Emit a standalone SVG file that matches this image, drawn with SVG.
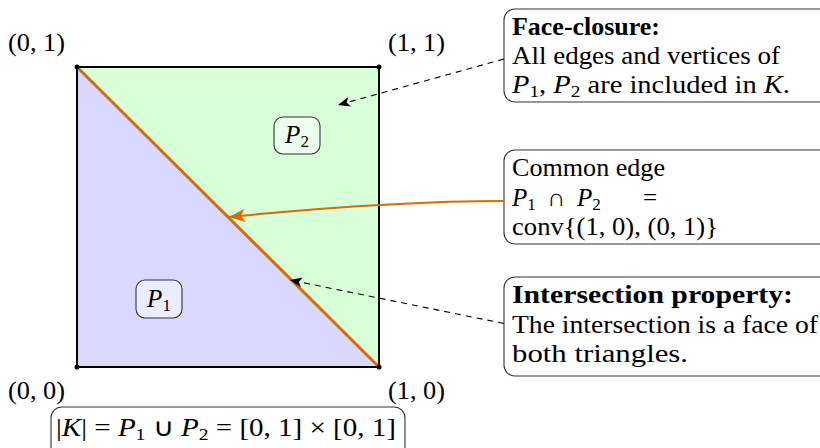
<svg xmlns="http://www.w3.org/2000/svg" width="820" height="448" viewBox="0 0 820 448">
<defs>
<style>
.t{font-family:"Liberation Serif","Times New Roman",serif;font-size:25px;fill:#000}
.b{font-weight:bold}
.i{font-style:italic}
.s{font-size:17px}
.box{fill:#fff;stroke:#333;stroke-width:1.1}
.lbl{stroke:#333;stroke-width:1.1}
.dash{fill:none;stroke:#000;stroke-width:1.1;stroke-dasharray:6,5}
</style>
<marker id="ah" viewBox="0 0 12 10" refX="12" refY="5" markerWidth="12" markerHeight="10" markerUnits="userSpaceOnUse" orient="auto">
<path d="M0,0 L12,5 L0,10 L3,5 z" fill="#000"/>
</marker>
<marker id="ahO" viewBox="0 0 16 13" refX="16" refY="6.5" markerWidth="16" markerHeight="13" markerUnits="userSpaceOnUse" orient="auto">
<path d="M0,0 L16,6.5 L0,13 L4,6.5 z" fill="#d56d00"/>
</marker>
</defs>

<g id="complex">
<polygon points="77,67 77,367 379,367" fill="#d9d9ff"/>
<polygon points="77,67 379,67 379,367" fill="#d9ffd9"/>
<rect x="77" y="67" width="302" height="300" fill="none" stroke="#000" stroke-width="2"/>
<line x1="77" y1="67" x2="379" y2="367" stroke="#d56d00" stroke-width="3"/>
<circle cx="77" cy="67" r="2.5" fill="#000"/>
<circle cx="379" cy="67" r="2.5" fill="#000"/>
<circle cx="77" cy="367" r="2.5" fill="#000"/>
<circle cx="379" cy="367" r="2.5" fill="#000"/>
</g>

<g id="corner-labels">
<text class="t" x="8" y="51" textLength="57" lengthAdjust="spacingAndGlyphs">(0, 1)</text>
<text class="t" x="388" y="51" textLength="57" lengthAdjust="spacingAndGlyphs">(1, 1)</text>
<text class="t" x="8" y="399" textLength="57" lengthAdjust="spacingAndGlyphs">(0, 0)</text>
<text class="t" x="388" y="399" textLength="57" lengthAdjust="spacingAndGlyphs">(1, 0)</text>
</g>

<g id="P2">
<rect class="lbl" x="274" y="117" width="46" height="37" rx="9" fill="#fff" fill-opacity="0.5"/>
<text class="t" x="297" y="143" text-anchor="middle"><tspan class="i">P</tspan><tspan class="s" dy="4">2</tspan></text>
</g>

<g id="P1">
<rect class="lbl" x="136" y="280" width="46" height="38" rx="9" fill="#fff" fill-opacity="0.5"/>
<text class="t" x="159" y="306.5" text-anchor="middle"><tspan class="i">P</tspan><tspan class="s" dy="4">1</tspan></text>
</g>

<g id="union">
<rect class="box" x="51" y="407" width="354" height="60" rx="11"/>
<text class="t" x="56" y="436" textLength="340" lengthAdjust="spacingAndGlyphs">|<tspan class="i">K</tspan>| = <tspan class="i">P</tspan><tspan class="s" dy="4">1</tspan><tspan dy="-4"> ∪ </tspan><tspan class="i">P</tspan><tspan class="s" dy="4">2</tspan><tspan dy="-4"> = [0, 1] × [0, 1]</tspan></text>
</g>

<g id="face-closure">
<rect class="box" x="504" y="9" width="330" height="93" rx="11"/>
<text class="t b" x="512" y="35" textLength="148" lengthAdjust="spacingAndGlyphs">Face-closure:</text>
<text class="t" x="512" y="64" textLength="268" lengthAdjust="spacingAndGlyphs">All edges and vertices of</text>
<text class="t" x="512" y="93" textLength="278" lengthAdjust="spacingAndGlyphs"><tspan class="i">P</tspan><tspan class="s" dy="4">1</tspan><tspan dy="-4">, </tspan><tspan class="i">P</tspan><tspan class="s" dy="4">2</tspan><tspan dy="-4"> are included in </tspan><tspan class="i">K</tspan>.</text>
</g>

<g id="common-edge">
<rect class="box" x="504" y="150" width="330" height="94" rx="11"/>
<text class="t" x="512" y="176" textLength="153" lengthAdjust="spacingAndGlyphs">Common edge</text>
<text class="t" y="206"><tspan class="i" x="512">P</tspan><tspan class="s" dy="4">1</tspan><tspan x="547" dy="-4">∩</tspan><tspan class="i" x="577">P</tspan><tspan class="s" dy="4">2</tspan><tspan x="643" dy="-4">=</tspan></text>
<text class="t" x="512" y="235" textLength="206" lengthAdjust="spacingAndGlyphs">conv{(1, 0), (0, 1)}</text>
</g>

<g id="intersection">
<rect class="box" x="504" y="277" width="330" height="99" rx="11"/>
<text class="t b" x="512" y="303" textLength="281" lengthAdjust="spacingAndGlyphs">Intersection property:</text>
<text class="t" x="512" y="333" textLength="306" lengthAdjust="spacingAndGlyphs">The intersection is a face of</text>
<text class="t" x="512" y="362" textLength="176" lengthAdjust="spacingAndGlyphs">both triangles.</text>
</g>

<g id="connectors">
<path class="dash" d="M504,59 L338,105" marker-end="url(#ah)"/>
<path d="M504,201 C440,201 360,204 229,217" fill="none" stroke="#d56d00" stroke-width="2" marker-end="url(#ahO)"/>
<path class="dash" d="M504,323.5 L290,280" marker-end="url(#ah)"/>
</g>
</svg>
